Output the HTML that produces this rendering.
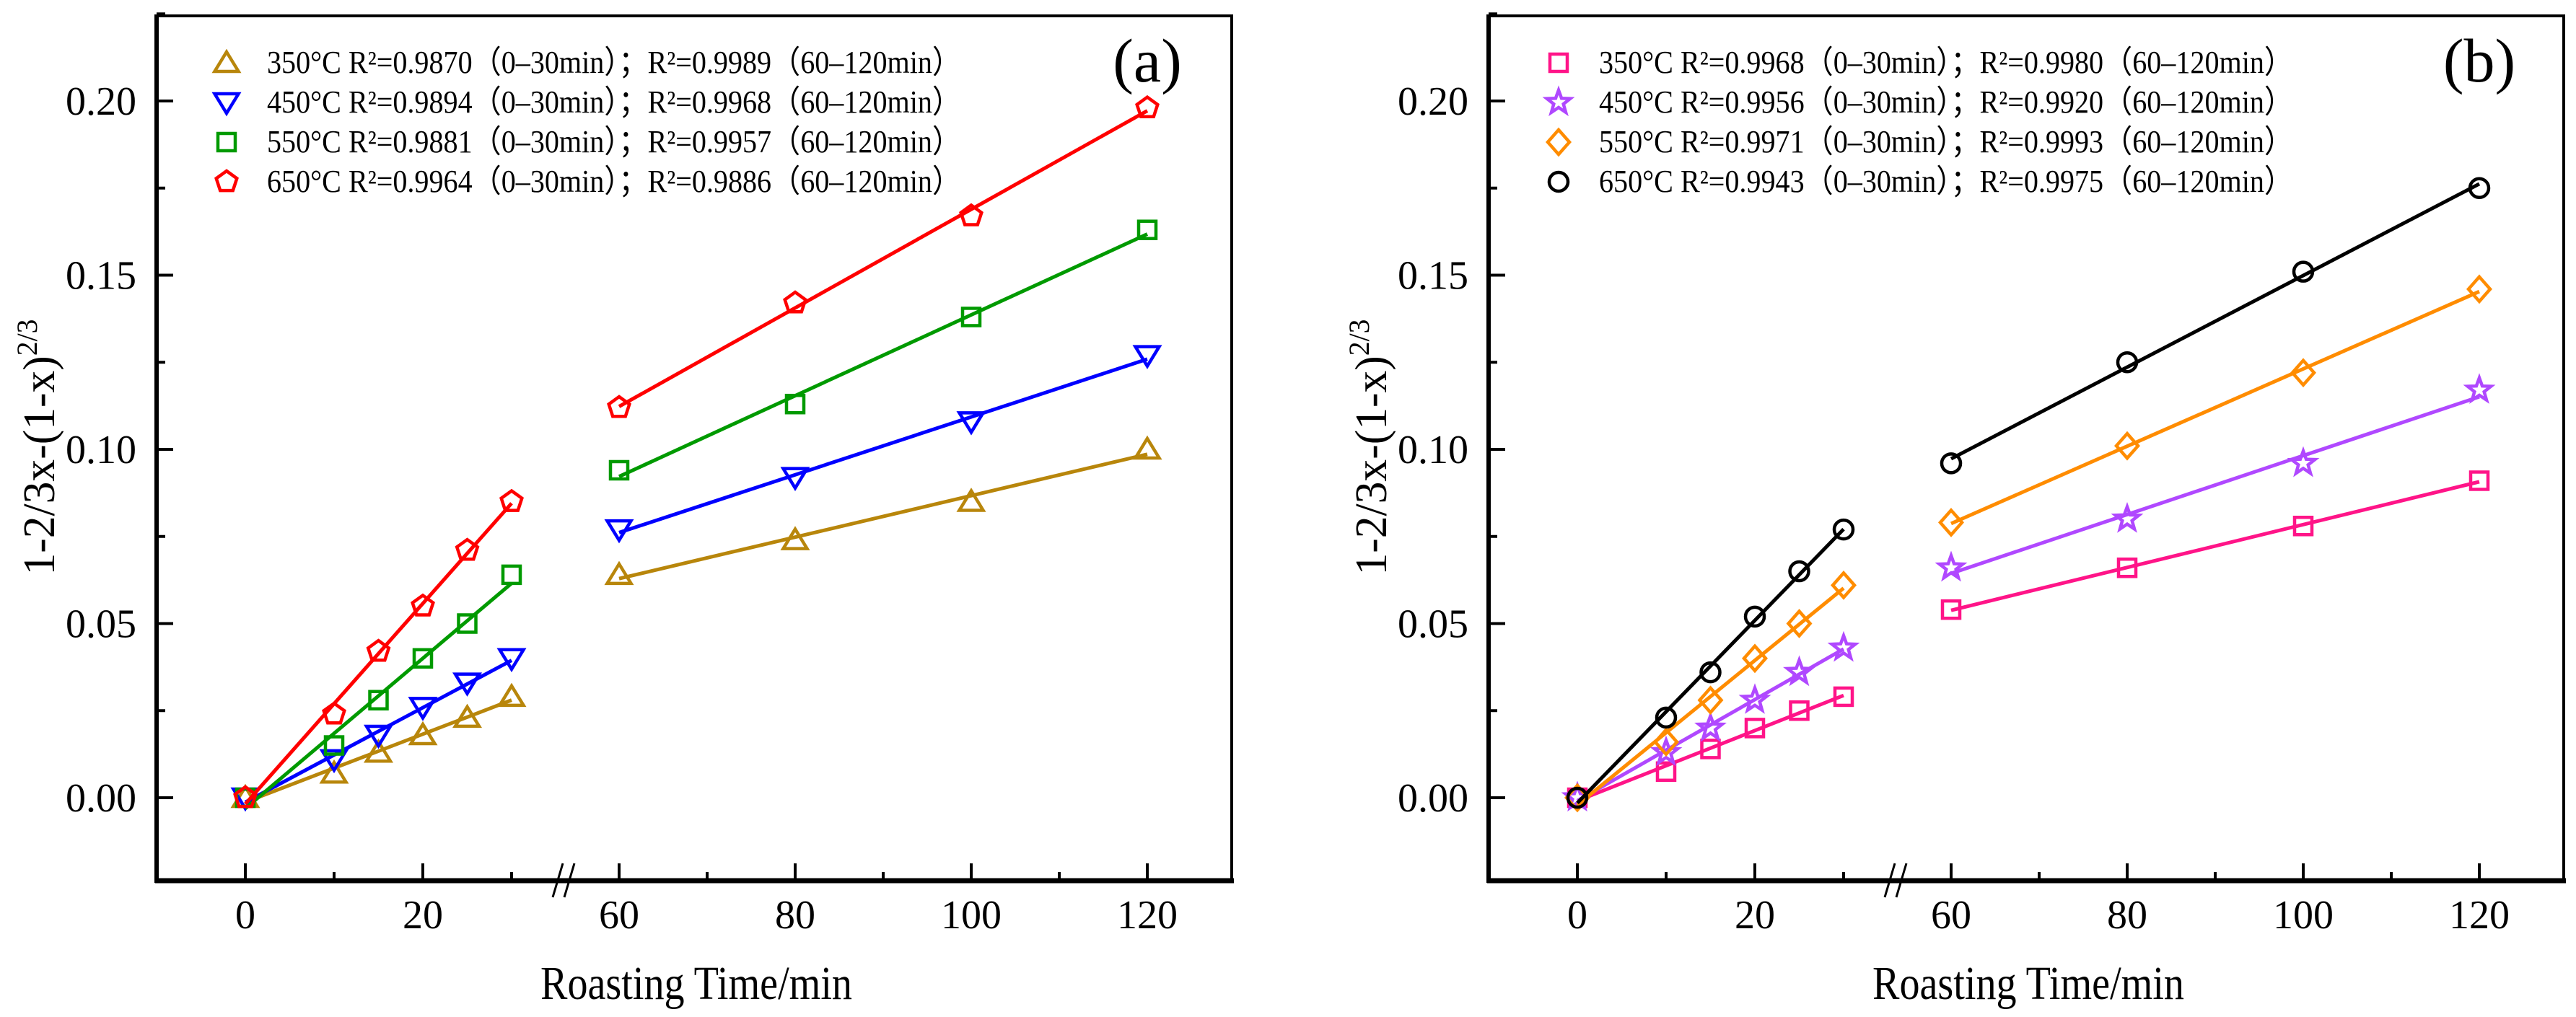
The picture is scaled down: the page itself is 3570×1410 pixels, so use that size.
<!DOCTYPE html>
<html><head><meta charset="utf-8"><style>
html,body{margin:0;padding:0;background:#fff;}
svg{display:block;}
svg text{font-family:"Liberation Serif","Times New Roman",serif;}
</style></head><body>
<svg id="chart" width="3570" height="1410" viewBox="0 0 3570 1410" xmlns="http://www.w3.org/2000/svg"></svg>
<script>
// ---- data ----
const timesLeft = [0, 10, 15, 20, 25, 30];
const timesRight = [60, 80, 100, 120];
const yTicks = [0, 0.05, 0.10, 0.15, 0.20];
const yTickLabels = ["0.00", "0.05", "0.10", "0.15", "0.20"];
const xTicks = [0, 20, 60, 80, 100, 120];
const xTickLabels = ["0", "20", "60", "80", "100", "120"];
const xMinorTicks = [10, 30, 70, 90, 110];

const a350L = [0.000, 0.007, 0.013, 0.018, 0.023, 0.029];
const a350R = [0.064, 0.074, 0.085, 0.100];
const a450L = [0.000, 0.011, 0.018, 0.026, 0.033, 0.040];
const a450R = [0.077, 0.092, 0.108, 0.127];
const a550L = [0.000, 0.015, 0.028, 0.040, 0.050, 0.064];
const a550R = [0.094, 0.113, 0.138, 0.163];
const a650L = [0.000, 0.024, 0.042, 0.055, 0.071, 0.085];
const a650R = [0.112, 0.142, 0.167, 0.198];

const b350L = [0.000, 0.0075, 0.014, 0.020, 0.025, 0.029];
const b350R = [0.054, 0.066, 0.078, 0.091];
const b450L = [0.000, 0.013, 0.020, 0.028, 0.036, 0.043];
const b450R = [0.066, 0.080, 0.096, 0.117];
const b550L = [0.000, 0.016, 0.028, 0.040, 0.050, 0.061];
const b550R = [0.079, 0.101, 0.122, 0.146];
const b650L = [0.000, 0.023, 0.036, 0.052, 0.065, 0.077];
const b650R = [0.096, 0.125, 0.151, 0.175];

const aLegend = ["350°C R²=0.9870（0–30min）；R²=0.9989（60–120min）","450°C R²=0.9894（0–30min）；R²=0.9968（60–120min）","550°C R²=0.9881（0–30min）；R²=0.9957（60–120min）","650°C R²=0.9964（0–30min）；R²=0.9886（60–120min）"];
const bLegend = ["350°C R²=0.9968（0–30min）；R²=0.9980（60–120min）","450°C R²=0.9956（0–30min）；R²=0.9920（60–120min）","550°C R²=0.9971（0–30min）；R²=0.9993（60–120min）","650°C R²=0.9943（0–30min）；R²=0.9975（60–120min）"];

const NS = "http://www.w3.org/2000/svg";
const svg = document.getElementById('chart');
const SERIF = '"Liberation Serif", "Noto Serif CJK SC", serif';
function mk(tag, attrs, parent){const e=document.createElementNS(NS,tag);for(const k in attrs)e.setAttribute(k,attrs[k]);if(tag==='text')e.setAttribute('font-family',SERIF);(parent||svg).appendChild(e);return e;}

function yS(v){return 1106 - v*4830;}
function xS(t){return t<=45 ? 340 + t*12.3 : 858 + (t-60)*12.2;}

function fit(xs, ys){const n=xs.length;let sx=0,sy=0,sxx=0,sxy=0;for(let i=0;i<n;i++){sx+=xs[i];sy+=ys[i];sxx+=xs[i]*xs[i];sxy+=xs[i]*ys[i];}const m=(n*sxy-sx*sy)/(n*sxx-sx*sx);return {m:m,b:(sy-m*sx)/n};}

function marker(g, shape, cx, cy, color){
  const r=15, sw=4.5;
  let e;
  if(shape==='tri'){e=mk('polygon',{points:`${cx},${cy-r} ${cx+r*1.1},${cy+r*0.8} ${cx-r*1.1},${cy+r*0.8}`},g);}
  else if(shape==='tridown'){e=mk('polygon',{points:`${cx},${cy+r} ${cx+r*1.1},${cy-r*0.8} ${cx-r*1.1},${cy-r*0.8}`},g);}
  else if(shape==='square'){e=mk('rect',{x:cx-12,y:cy-12,width:24,height:24},g);}
  else if(shape==='circle'){e=mk('circle',{cx:cx,cy:cy,r:13},g);}
  else if(shape==='diamond'){e=mk('polygon',{points:`${cx},${cy-17} ${cx+15},${cy} ${cx},${cy+17} ${cx-15},${cy}`},g);}
  else if(shape==='pent'){let p=[];for(let i=0;i<5;i++){const a=-Math.PI/2+i*2*Math.PI/5;p.push((cx+r*Math.cos(a)).toFixed(1)+','+(cy+r*Math.sin(a)).toFixed(1));}e=mk('polygon',{points:p.join(' ')},g);}
  else if(shape==='star'){let p=[];for(let i=0;i<10;i++){const a=-Math.PI/2+i*Math.PI/5;const rr=i%2?7:17;p.push((cx+rr*Math.cos(a)).toFixed(1)+','+(cy+rr*Math.sin(a)).toFixed(1));}e=mk('polygon',{points:p.join(' ')},g);}
  e.setAttribute('fill','none');e.setAttribute('stroke',color);e.setAttribute('stroke-width',sw);
  
  
  return e;
}

function panel(ox, id, label, series, legend){
  const g=mk('g',{transform:`translate(${ox},0)`});
  
  
  const fr=mk('rect',{x:217,y:22,width:1490,height:1199,fill:'none',stroke:'#000','stroke-width':4},g);
  
  
  const ax=mk('line',{x1:215,y1:1221,x2:1710,y2:1221,stroke:'#000','stroke-width':7},g);
  
  
  const ay=mk('line',{x1:217,y1:20,x2:217,y2:1224,stroke:'#000','stroke-width':6},g);
  
  
  yTicks.forEach((v,i)=>{
    mk('line',{x1:217,y1:yS(v),x2:240,y2:yS(v),stroke:'#000','stroke-width':4},g);
    const t=mk('text',{x:189,y:yS(v)+19,'text-anchor':'end','font-size':56},g);
    t.textContent=yTickLabels[i];
    
    
    mk('line',{x1:217,y1:yS(v+0.025),x2:229,y2:yS(v+0.025),stroke:'#000','stroke-width':4},g);
  });
  xTicks.forEach((v,i)=>{
    mk('line',{x1:xS(v),y1:1221,x2:xS(v),y2:1197,stroke:'#000','stroke-width':4},g);
    const t=mk('text',{x:xS(v),y:1287,'text-anchor':'middle','font-size':56},g);
    t.textContent=xTickLabels[i];
    
    
  });
  xMinorTicks.forEach(v=>{mk('line',{x1:xS(v),y1:1221,x2:xS(v),y2:1209,stroke:'#000','stroke-width':4},g);});
  const br=mk('g',{},g);
  
  
  mk('line',{x1:766,y1:1244,x2:780,y2:1197,stroke:'#000','stroke-width':3},br);
  mk('line',{x1:782,y1:1244,x2:796,y2:1197,stroke:'#000','stroke-width':3},br);
  const xt=mk('text',{x:965,y:1385,'text-anchor':'middle','font-size':66,textLength:432,lengthAdjust:'spacingAndGlyphs'},g);
  xt.textContent='Roasting Time/min';
  
  
  const yt=mk('text',{transform:'translate(75,620) rotate(-90)','text-anchor':'middle','font-size':62,textLength:355,lengthAdjust:'spacingAndGlyphs'},g);
  yt.innerHTML='1-2/3x-(1-x)<tspan dy="-24" font-size="40">2/3</tspan>';
  
  
  const pl=mk('text',{x:1590,y:113,'text-anchor':'middle','font-size':86},g);
  pl.textContent=label;
  
  
  series.forEach((s,si)=>{
    const sg=mk('g',{},g);
    
    
    [[timesLeft,s.L],[timesRight,s.R]].forEach(([xs,ys])=>{
      const f=fit(xs,ys);const x0=xs[0],x1=xs[xs.length-1];
      const ln=mk('line',{x1:xS(x0),y1:yS(f.m*x0+f.b),x2:xS(x1),y2:yS(f.m*x1+f.b),stroke:s.color,'stroke-width':5},sg);
      
      
    });
    timesLeft.forEach((t,i)=>marker(sg,s.shape,xS(t),yS(s.L[i]),s.color));
    timesRight.forEach((t,i)=>marker(sg,s.shape,xS(t),yS(s.R[i]),s.color));
    const ly=87+si*55;
    const le=mk('g',{},g);
    
    
    marker(le,s.shape,314,ly,s.color);
    const lt=mk('text',{x:370,y:ly+14,'font-size':44,textLength:962,lengthAdjust:'spacingAndGlyphs'},le);
    lt.textContent=legend[si];
  });
}

panel(0,'a','(a)',[
  {name:'350C',color:'#b8860b',shape:'tri',L:a350L,R:a350R},
  {name:'450C',color:'#0000ff',shape:'tridown',L:a450L,R:a450R},
  {name:'550C',color:'#009a00',shape:'square',L:a550L,R:a550R},
  {name:'650C',color:'#ff0000',shape:'pent',L:a650L,R:a650R}
],aLegend);
panel(1846,'b','(b)',[
  {name:'350C',color:'#ff1488',shape:'square',L:b350L,R:b350R},
  {name:'450C',color:'#b048ff',shape:'star',L:b450L,R:b450R},
  {name:'550C',color:'#ff8c00',shape:'diamond',L:b550L,R:b550R},
  {name:'650C',color:'#000000',shape:'circle',L:b650L,R:b650R}
],bLegend);
</script>
</body></html>
